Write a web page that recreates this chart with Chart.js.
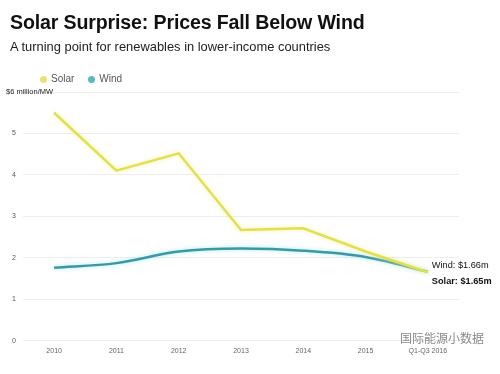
<!DOCTYPE html>
<html>
<head>
<meta charset="utf-8">
<script src="https://cdn.jsdelivr.net/npm/chart.js@4.4.1/dist/chart.umd.min.js"></script>
<style>
  body { margin: 0; background: #fff; }
  #wrap { position: relative; width: 500px; height: 374px; overflow: hidden; font-family: "Liberation Sans", Arial, sans-serif; }
  #wrap canvas { position: absolute; left: 0; top: 0; }
  .titulo { position: absolute; left: 10px; top: 11px; font-size: 19.6px; font-weight: bold; color: #111; letter-spacing: -0.15px; white-space: nowrap; }
  .subtitulo { position: absolute; left: 10px; top: 39px; font-size: 12.9px; color: #222; white-space: nowrap; }
  #legenda { position: absolute; left: 40px; top: 73px; font-size: 10px; color: #555; white-space: nowrap; }
  #legenda span.item { margin-right: 14px; }
  #legenda span.dot { display: inline-block; width: 7px; height: 7px; border-radius: 50%; margin-right: 4px; vertical-align: -0.5px; }
  .marca { position: absolute; left: 400px; top: 329px; font-size: 12px; color: #8a8a8a; font-family: "Noto Sans CJK SC", sans-serif; white-space: nowrap; }
</style>
</head>
<body>
<div id="wrap">
  <canvas id="grafico" width="500" height="374"></canvas>
  <div class="titulo">Solar Surprise: Prices Fall Below Wind</div>
  <div class="subtitulo">A turning point for renewables in lower-income countries</div>
  <div id="legenda"></div>
  <div class="marca">国际能源小数据</div>
</div>
<script>
// Dados do gráfico
var anos = ['2010', '2011', '2012', '2013', '2014', '2015', 'Q1-Q3 2016'];
var solar = [5.5, 4.1, 4.52, 2.67, 2.71, 2.15, 1.65];
var vento = [1.76, 1.87, 2.15, 2.22, 2.17, 2.02, 1.66];
var ticksY = [0, 1, 2, 3, 4, 5, 6];
var rotuloTopo = '$6 million/MW';
var rotuloVento = 'Wind: $1.66m';
var rotuloSolar = 'Solar: $1.65m';

// Brilho suave nas linhas
var brilho = {
    id: 'brilho',
    beforeDatasetDraw: function (chart, args) {
        var ds = chart.data.datasets[args.index];
        chart.ctx.save();
        chart.ctx.shadowColor = ds.glowColor;
        chart.ctx.shadowBlur = 4;
    },
    afterDatasetDraw: function (chart) {
        chart.ctx.restore();
    }
};

// Textos extras: unidade no topo e rótulos finais
var textos = {
    id: 'textos',
    afterDraw: function (chart) {
        var ctx = chart.ctx;
        var y = chart.scales.y;
        var x = chart.scales.x;
        ctx.save();
        ctx.fillStyle = '#222';
        ctx.font = '7.5px "Liberation Sans", Arial, sans-serif';
        ctx.textBaseline = 'middle';
        ctx.textAlign = 'left';
        ctx.fillText(rotuloTopo, 6, y.getPixelForValue(6));

        var ultimo = anos.length - 1;
        var px = x.getPixelForValue(ultimo) + 4;
        var py = y.getPixelForValue(vento[ultimo]);
        ctx.fillStyle = '#111';
        ctx.font = '9.2px "Liberation Sans", Arial, sans-serif';
        ctx.fillText(rotuloVento, px, py - 6);
        ctx.font = 'bold 9.2px "Liberation Sans", Arial, sans-serif';
        ctx.fillText(rotuloSolar, px, py + 10);
        ctx.restore();
    }
};

var ctx = document.getElementById('grafico').getContext('2d');
var grafico = new Chart(ctx, {
    type: 'line',
    data: {
        labels: anos,
        datasets: [
            {
                label: 'Solar',
                data: solar,
                borderColor: '#e2df55',
                glowColor: 'rgba(245, 242, 150, 0.9)',
                backgroundColor: '#e8e27a',
                borderWidth: 2.5,
                pointRadius: 0,
                tension: 0
            },
            {
                label: 'Wind',
                data: vento,
                borderColor: '#3e97a3',
                glowColor: 'rgba(150, 235, 245, 0.9)',
                backgroundColor: '#5bb8c4',
                borderWidth: 2.5,
                pointRadius: 0,
                cubicInterpolationMode: 'monotone'
            }
        ]
    },
    options: {
        responsive: false,
        animation: false,
        layout: { padding: { left: 0, right: 41, top: 92, bottom: 13 } },
        plugins: {
            legend: { display: false },
            tooltip: { enabled: false }
        },
        scales: {
            x: {
                offset: true,
                grid: { display: false, drawTicks: false },
                border: { display: false },
                ticks: { color: '#666', font: { size: 7, family: '"Liberation Sans", Arial, sans-serif' }, maxRotation: 0, autoSkip: false, padding: 6 }
            },
            y: {
                min: 0,
                max: 6,
                afterFit: function (s) { s.width = 23; },
                afterBuildTicks: function (s) { s.ticks = ticksY.map(v => ({ value: v })); },
                grid: { color: '#eeeeee', drawTicks: false },
                border: { display: false },
                ticks: {
                    color: '#555',
                    padding: 7,
                    font: { size: 7, family: '"Liberation Sans", Arial, sans-serif' },
                    callback: function (v) { return v === 6 ? '' : v; }
                }
            }
        }
    },
    plugins: [brilho, textos]
});

// Legenda em HTML a partir dos datasets
var legenda = document.getElementById('legenda');
grafico.data.datasets.forEach(ds => {
    var item = document.createElement('span');
    item.className = 'item';
    item.innerHTML = '<span class="dot" style="background:' + ds.backgroundColor + '"></span>' + ds.label;
    legenda.appendChild(item);
});
</script>
</body>
</html>
